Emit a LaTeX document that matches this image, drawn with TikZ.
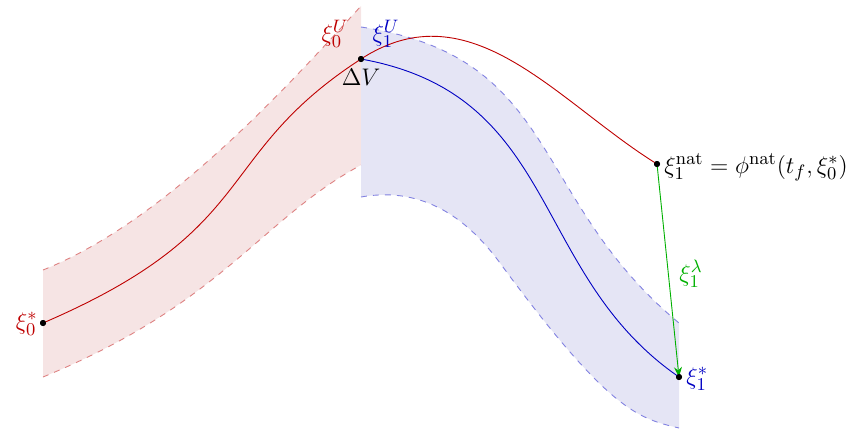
\documentclass[tikz,border=0pt]{standalone}
\usetikzlibrary{arrows.meta}
\definecolor{cred}{RGB}{190,0,0}
\definecolor{cblue}{RGB}{0,0,195}
\definecolor{cgreen}{RGB}{0,176,0}
\definecolor{fred}{RGB}{246,228,228}
\definecolor{fblue}{RGB}{229,229,245}
\definecolor{dred}{RGB}{222,130,130}
\definecolor{dblue}{RGB}{130,130,225}
\tikzset{
  lbl/.style={font=\fontsize{13}{15}\selectfont, inner sep=1pt},
  dot/.style={circle, fill=black, inner sep=0pt, minimum size=3pt},
  traj/.style={line width=0.45pt},
  bound/.style={dashed, line width=0.45pt},
}
\begin{document}
\begin{tikzpicture}[x=0.5pt,y=-0.5pt]
\useasboundingbox (0,0) rectangle (857,430);
% band corners
\coordinate (rt0) at (43,270);  \coordinate (rt1) at (361,6);
\coordinate (rb0) at (43,377);  \coordinate (rb1) at (361,165);
\coordinate (bt0) at (361,27);  \coordinate (bt1) at (679,323);
\coordinate (bb0) at (361,197); \coordinate (bbm) at (500,263); \coordinate (bb1) at (679,428);
% red band
\fill[fred] (rt0) .. controls (163,222) and (281,94) .. (rt1) -- (rb1)
  .. controls (261,219) and (223,303) .. (rb0) -- cycle;
% blue band
\fill[fblue] (bt0) .. controls (561,57) and (529,198.5) .. (bt1) -- (bb1)
  .. controls (639,418.4) and (610,412.6) .. (bbm)
  .. controls (470,222.2) and (426,185.3) .. (bb0) -- cycle;
% dashed bounds
\draw[bound, dred] (rt0) .. controls (163,222) and (281,94) .. (rt1);
\draw[bound, dred] (rb0) .. controls (223,303) and (261,219) .. (rb1);
\draw[bound, dblue] (bt0) .. controls (561,57) and (529,198.5) .. (bt1);
\draw[bound, dblue] (bb0) .. controls (426,185.3) and (470,222.2) .. (bbm)
  .. controls (610,412.6) and (639,418.4) .. (bb1);
% points
\node[dot] (x0) at (43,323) {};
\node[dot] (dv) at (361,59) {};
\node[dot] (nat) at (657,164) {};
\node[dot] (x1) at (679,377) {};
% trajectories
\draw[traj, cred] (x0.center) .. controls (263,228.4) and (211,156.5) .. (dv.center)
  .. controls (471,-12.5) and (557,102) .. (nat.center);
\draw[traj, cblue] (dv.center) .. controls (561,95) and (529,273.5) .. (x1.center);
% correction arrow
\draw[traj, cgreen, -{Stealth[length=5pt,width=4pt]}] (nat.center) -- (x1.center);
% dots on top
\fill (x0.center) circle (1.5pt);
\fill (dv.center) circle (1.5pt);
\fill (nat.center) circle (1.5pt);
\fill (x1.center) circle (1.5pt);
% labels
\node[lbl, cred, anchor=east] (lx0) at (40,324) {$\xi_0^*$};
\node[lbl, cred] (lx0u) at (335,34) {$\xi_0^U$};
\node[lbl, cblue] (lx1u) at (386,34) {$\xi_1^U$};
\node[lbl] (ldv) at (361,77) {$\Delta V$};
\node[lbl, anchor=west] (lnat) at (662,167) {$\xi_1^{\mathrm{nat}} = \phi^{\mathrm{nat}}(t_f,\xi_0^*)$};
\node[lbl, cgreen] (llam) at (691,274) {$\xi_1^\lambda$};
\node[lbl, cblue, anchor=west] (lx1) at (684,379) {$\xi_1^*$};
\end{tikzpicture}
\end{document}
